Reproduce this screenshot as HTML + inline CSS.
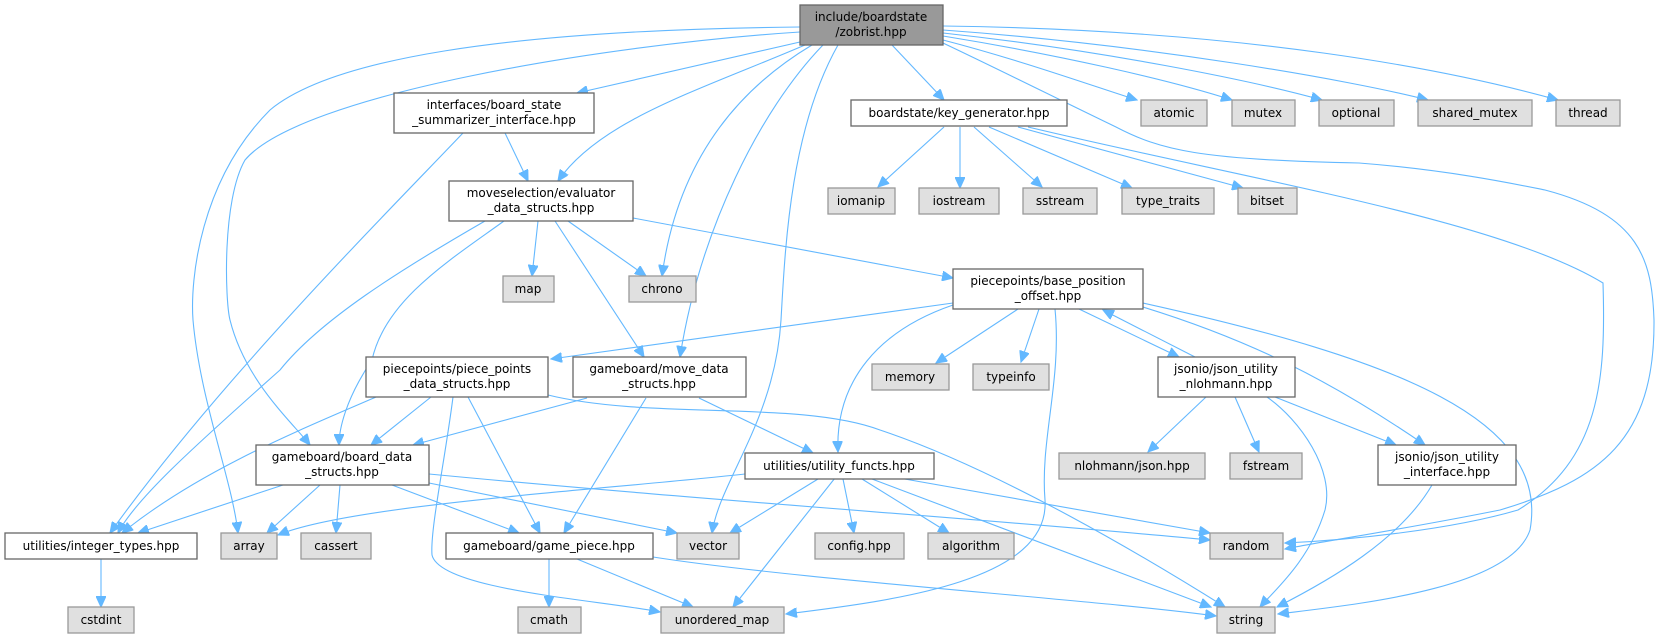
<!DOCTYPE html>
<html><head><meta charset="utf-8"><style>
html,body{margin:0;padding:0;background:#fff;}
svg{display:block;}
text{font-family:"DejaVu Sans","Liberation Sans",sans-serif;font-size:12px;fill:#000;text-anchor:middle;}
.w{fill:#fff;stroke:#666;stroke-width:1.3;}
.g{fill:#e0e0e0;stroke:#999;stroke-width:1.3;}
.r{fill:#999;stroke:#666;stroke-width:1.3;}
path{fill:none;stroke:#63b8ff;stroke-width:1.1;marker-end:url(#a);}
</style></head><body>
<svg width="1663" height="637" viewBox="0 0 1663 637" xmlns="http://www.w3.org/2000/svg">
<defs><marker id="a" markerUnits="userSpaceOnUse" markerWidth="12" markerHeight="10" refX="11" refY="5" orient="auto"><path d="M0,0 L11,5 L0,10 z" style="fill:#63b8ff;stroke:#63b8ff;marker-end:none"/></marker></defs>

<!-- edges -->
<path d="M800,42 L577,93"/>
<path d="M805,45 C700,90 600,120 558,181"/>
<path d="M812,45 C720,100 675,180 662,276"/>
<path d="M823,45 C760,110 700,230 680,357"/>
<path d="M838,45 C790,130 785,250 781,320 C775,420 720,480 712,533"/>
<path d="M800,32 C600,45 300,95 245,160 C222,200 225,300 230,320 C245,380 290,420 310,445"/>
<path d="M800,27 C500,30 330,60 270,110 C200,180 190,280 193,320 C200,400 232,480 238,533"/>
<path d="M892,45 L944,100"/>
<path d="M943,40 C1020,60 1090,85 1137,100"/>
<path d="M943,36 C1060,55 1170,80 1232,100"/>
<path d="M943,33 C1100,50 1250,80 1322,100"/>
<path d="M943,30 C1150,45 1350,80 1428,100"/>
<path d="M943,26 C1250,30 1450,70 1558,100"/>
<path d="M943,43 C1000,70 1060,100 1116,127 C1160,150 1200,160 1359,163 C1450,170 1520,185 1545,190 C1640,215 1652,260 1654,320 C1655,440 1600,480 1500,510 C1400,530 1330,540 1285,549"/>
<path d="M1028,127 C1250,180 1500,220 1603,283 C1606,380 1600,460 1518,510 C1450,530 1350,540 1285,543"/>
<path d="M944,127 L878,187"/>
<path d="M960,127 L960,188"/>
<path d="M974,127 L1042,187"/>
<path d="M989,127 L1132,188"/>
<path d="M1018,127 L1243,188"/>
<path d="M463,133 C380,220 220,380 110,533"/>
<path d="M505,133 L528,181"/>
<path d="M485,221 C400,270 320,320 280,370 C190,450 135,500 118,533"/>
<path d="M504,221 C450,260 385,300 372,360 C345,400 339,430 339,445"/>
<path d="M538,221 L532,276"/>
<path d="M568,221 L646,276"/>
<path d="M555,221 L644,357"/>
<path d="M633,218 L953,278"/>
<path d="M953,303 L551,359"/>
<path d="M1018,309 L936,363"/>
<path d="M1039,309 L1021,362"/>
<path d="M953,305 C880,330 835,380 838,452"/>
<path d="M1055,309 C1062,380 1040,440 1045,500 C1050,580 900,600 786,614"/>
<path d="M1079,309 L1179,357"/>
<path d="M1195,357 L1103,310"/>
<path d="M1143,307 C1250,340 1330,380 1425,445"/>
<path d="M1143,303 C1400,360 1550,420 1530,530 C1510,590 1350,605 1278,614"/>
<path d="M1206,397 L1148,452"/>
<path d="M1235,397 L1259,452"/>
<path d="M1275,397 L1396,445"/>
<path d="M1267,397 C1300,420 1335,470 1325,510 C1310,560 1275,590 1260,607"/>
<path d="M1432,485 C1400,540 1330,580 1277,607"/>
<path d="M376,397 C300,430 200,470 122,533"/>
<path d="M431,397 L371,445"/>
<path d="M468,397 L540,533"/>
<path d="M453,397 C445,460 430,530 432,555 C440,590 600,600 660,612"/>
<path d="M548,395 C650,420 800,400 880,430 C1000,470 1150,560 1225,607"/>
<path d="M587,398 L413,445"/>
<path d="M646,398 L564,533"/>
<path d="M699,398 L813,453"/>
<path d="M283,485 L138,533"/>
<path d="M320,485 L267,533"/>
<path d="M340,485 L336,533"/>
<path d="M392,485 L519,533"/>
<path d="M429,483 L677,533"/>
<path d="M429,474 C700,500 1000,520 1210,540"/>
<path d="M745,474 C600,490 350,505 278,535"/>
<path d="M818,479 L730,533"/>
<path d="M835,478 L733,607"/>
<path d="M843,479 L854,533"/>
<path d="M862,479 L949,533"/>
<path d="M872,479 L1211,607"/>
<path d="M899,478 L1210,533"/>
<path d="M549,559 L549,607"/>
<path d="M577,559 L693,607"/>
<path d="M653,557 C800,580 1100,600 1216,616"/>
<path d="M101,559 L101,607"/>

<!-- nodes -->
<rect class="r" x="800" y="5" width="143" height="40"/><text x="871" y="21">include/boardstate</text><text x="871" y="36">/zobrist.hpp</text>
<rect class="w" x="394" y="93" width="200" height="40"/><text x="494" y="109">interfaces/board_state</text><text x="494" y="124">_summarizer_interface.hpp</text>
<rect class="w" x="851" y="100" width="216" height="26"/><text x="959" y="117">boardstate/key_generator.hpp</text>
<rect class="g" x="1141" y="100" width="66" height="26"/><text x="1174" y="117">atomic</text>
<rect class="g" x="1232" y="100" width="63" height="26"/><text x="1263" y="117">mutex</text>
<rect class="g" x="1319" y="100" width="75" height="26"/><text x="1356" y="117">optional</text>
<rect class="g" x="1418" y="100" width="114" height="26"/><text x="1475" y="117">shared_mutex</text>
<rect class="g" x="1556" y="100" width="64" height="26"/><text x="1588" y="117">thread</text>
<rect class="w" x="449" y="181" width="184" height="40"/><text x="541" y="197">moveselection/evaluator</text><text x="541" y="212">_data_structs.hpp</text>
<rect class="g" x="828" y="188" width="67" height="26"/><text x="861" y="205">iomanip</text>
<rect class="g" x="919" y="188" width="80" height="26"/><text x="959" y="205">iostream</text>
<rect class="g" x="1023" y="188" width="74" height="26"/><text x="1060" y="205">sstream</text>
<rect class="g" x="1122" y="188" width="92" height="26"/><text x="1168" y="205">type_traits</text>
<rect class="g" x="1238" y="188" width="59" height="26"/><text x="1267" y="205">bitset</text>
<rect class="g" x="503" y="276" width="51" height="26"/><text x="528" y="293">map</text>
<rect class="g" x="629" y="276" width="67" height="26"/><text x="662" y="293">chrono</text>
<rect class="w" x="953" y="269" width="190" height="40"/><text x="1048" y="285">piecepoints/base_position</text><text x="1048" y="300">_offset.hpp</text>
<rect class="w" x="366" y="357" width="182" height="40"/><text x="457" y="373">piecepoints/piece_points</text><text x="457" y="388">_data_structs.hpp</text>
<rect class="w" x="573" y="357" width="173" height="40"/><text x="659" y="373">gameboard/move_data</text><text x="659" y="388">_structs.hpp</text>
<rect class="g" x="872" y="364" width="77" height="26"/><text x="910" y="381">memory</text>
<rect class="g" x="973" y="364" width="76" height="26"/><text x="1011" y="381">typeinfo</text>
<rect class="w" x="1158" y="357" width="137" height="40"/><text x="1226" y="373">jsonio/json_utility</text><text x="1226" y="388">_nlohmann.hpp</text>
<rect class="w" x="256" y="445" width="173" height="40"/><text x="342" y="461">gameboard/board_data</text><text x="342" y="476">_structs.hpp</text>
<rect class="w" x="745" y="453" width="189" height="26"/><text x="839" y="470">utilities/utility_functs.hpp</text>
<rect class="g" x="1059" y="453" width="146" height="26"/><text x="1132" y="470">nlohmann/json.hpp</text>
<rect class="g" x="1230" y="453" width="72" height="26"/><text x="1266" y="470">fstream</text>
<rect class="w" x="1378" y="445" width="138" height="40"/><text x="1447" y="461">jsonio/json_utility</text><text x="1447" y="476">_interface.hpp</text>
<rect class="w" x="5" y="533" width="192" height="26"/><text x="101" y="550">utilities/integer_types.hpp</text>
<rect class="g" x="221" y="533" width="56" height="26"/><text x="249" y="550">array</text>
<rect class="g" x="301" y="533" width="70" height="26"/><text x="336" y="550">cassert</text>
<rect class="w" x="446" y="533" width="207" height="26"/><text x="549" y="550">gameboard/game_piece.hpp</text>
<rect class="g" x="677" y="533" width="62" height="26"/><text x="708" y="550">vector</text>
<rect class="g" x="815" y="533" width="89" height="26"/><text x="859" y="550">config.hpp</text>
<rect class="g" x="928" y="533" width="86" height="26"/><text x="971" y="550">algorithm</text>
<rect class="g" x="1210" y="533" width="73" height="26"/><text x="1246" y="550">random</text>
<rect class="g" x="68" y="607" width="66" height="26"/><text x="101" y="624">cstdint</text>
<rect class="g" x="518" y="607" width="63" height="26"/><text x="549" y="624">cmath</text>
<rect class="g" x="661" y="607" width="123" height="26"/><text x="722" y="624">unordered_map</text>
<rect class="g" x="1217" y="607" width="58" height="26"/><text x="1246" y="624">string</text>
</svg>
</body></html>
